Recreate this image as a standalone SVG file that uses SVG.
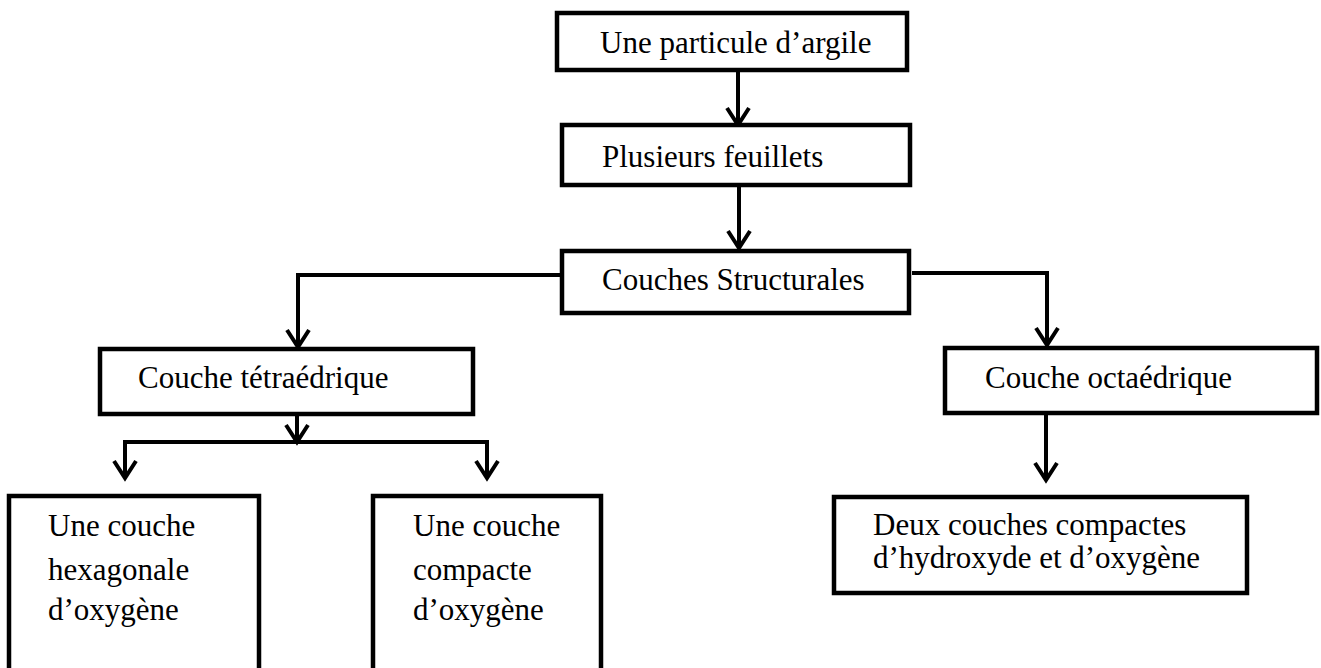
<svg xmlns="http://www.w3.org/2000/svg" width="1321" height="668" viewBox="0 0 1321 668">
  <style>
    .box { fill: #fff; stroke: #000; stroke-width: 4.5; }
    .lbl { font-family: "Liberation Serif", "Times New Roman", serif; font-size: 31px; fill: #000; }
    .wire { fill: none; stroke: #000; stroke-width: 4; }
    .arrow { marker-end: url(#vee); }
  </style>
  <defs>
    <!-- open V arrowhead, tip on the line end -->
    <marker id="vee" viewBox="-20 -14 22 28" markerWidth="22" markerHeight="28" refX="0" refY="0" orient="auto-start-reverse" markerUnits="userSpaceOnUse" overflow="visible">
      <path d="M -17 -11 L 0 0 L -17 11" fill="none" stroke="#000" stroke-width="4"/>
    </marker>
  </defs>
  <rect width="1321" height="668" fill="#fff"/>

  <!-- connectors -->
  <g id="connectors">
    <path class="wire arrow" d="M 738 70 V 125"/>
    <path class="wire arrow" d="M 739 185 V 248"/>
    <path class="wire arrow" d="M 562 275 H 298 V 347"/>
    <path class="wire arrow" d="M 912 273 H 1047 V 345"/>
    <path class="wire arrow" d="M 297 414 V 442"/>
    <path class="wire arrow" d="M 125 478 V 442 H 487 V 478" marker-start="url(#vee)"/>
    <path class="wire arrow" d="M 1046 407 V 480"/>
  </g>

  <g id="particule">
    <rect class="box" x="557" y="13" width="350" height="57"/>
    <text class="lbl" x="600" y="53">Une particule d’argile</text>
  </g>
  <g id="feuillets">
    <rect class="box" x="562" y="125" width="348" height="60"/>
    <text class="lbl" x="602" y="167">Plusieurs feuillets</text>
  </g>
  <g id="couches-structurales">
    <rect class="box" x="562" y="251" width="347" height="62"/>
    <text class="lbl" x="602" y="290">Couches Structurales</text>
  </g>
  <g id="tetraedrique">
    <rect class="box" x="100" y="349" width="373" height="65"/>
    <text class="lbl" x="138" y="388">Couche tétraédrique</text>
  </g>
  <g id="octaedrique">
    <rect class="box" x="945" y="348" width="372" height="65"/>
    <text class="lbl" x="985" y="388">Couche octaédrique</text>
  </g>
  <g id="hexagonale">
    <rect class="box" x="9" y="496" width="250" height="190"/>
    <text class="lbl" x="48" y="536">Une couche</text>
    <text class="lbl" x="48" y="580">hexagonale</text>
    <text class="lbl" x="48" y="620">d’oxygène</text>
  </g>
  <g id="compacte">
    <rect class="box" x="373" y="496" width="228" height="190"/>
    <text class="lbl" x="413" y="536">Une couche</text>
    <text class="lbl" x="413" y="580">compacte</text>
    <text class="lbl" x="413" y="620">d’oxygène</text>
  </g>
  <g id="deux-couches">
    <rect class="box" x="834" y="497" width="413" height="96"/>
    <text class="lbl" x="873" y="535">Deux couches compactes</text>
    <text class="lbl" x="873" y="568">d’hydroxyde et d’oxygène</text>
  </g>
</svg>
